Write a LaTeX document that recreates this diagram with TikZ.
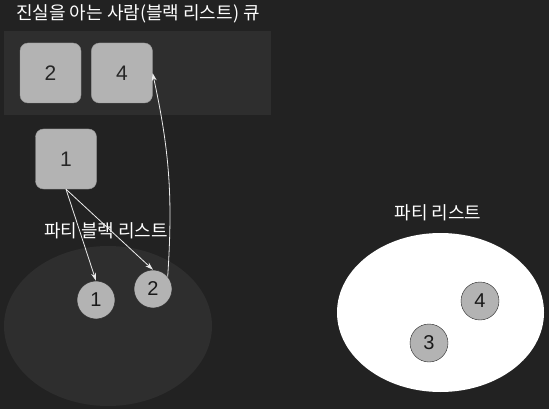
\documentclass[tikz,border=0pt]{standalone}
\usepackage{fontspec}
\setmainfont{Liberation Sans}
\newfontfamily\kr{Noto Sans CJK KR}
\usetikzlibrary{positioning,arrows.meta,shapes.geometric}
\definecolor{bgdark}{HTML}{222222}
\definecolor{panel}{HTML}{2E2E2E}
\definecolor{itemgray}{HTML}{B3B3B3}
\begin{document}
\begin{tikzpicture}[x=1pt,y=-1pt,
    item/.style={draw=itemgray!85!black, fill=itemgray, rounded corners=8pt,
      minimum width=61pt, minimum height=60pt, inner sep=0pt,
      text=black!85, font=\fontsize{21}{24}\selectfont},
    person/.style={circle, draw=black!85, fill=itemgray, minimum size=38pt,
      inner sep=0pt, text=black!90, font=\fontsize{20}{24}\selectfont},
    caption/.style={text=white, font=\kr\fontsize{18}{22}\selectfont},
    group/.style={ellipse, inner sep=0pt},
    link/.style={draw=white!92!black, line width=0.8pt,
      -{Stealth[length=8pt,width=5pt]}}]
  \fill[bgdark] (0,0) rectangle (549,409);
  \useasboundingbox (0,0) rectangle (549,409);

  % queue of people who know the truth
  \node[caption] (qtitle) at (138,14) {진실을 아는 사람(블랙 리스트) 큐};
  \node[fill=panel, minimum width=267pt, minimum height=84pt] (queue) at (137.5,73) {};
  \node[item] (q2) at (50.5,73) {2};
  \node[item, right=10pt of q2] (q4) {4};
  \node[item] (b1) at (66,159) {1};

  % party black list
  \node[caption] (blabel) at (106,231) {파티 블랙 리스트};
  \node[group, fill=panel, minimum width=208pt, minimum height=160pt] (blist) at (108,326) {};
  \node[person] (p1) at (96,300) {1};
  \node[person] (p2) at (153,289) {2};

  % party list
  \node[caption] (plabel) at (438,213) {파티 리스트};
  \node[group, fill=white, minimum width=207pt, minimum height=159pt] (plist) at (440.5,312.5) {};
  \node[person] (p4) at (480,301) {4};
  \node[person] (p3) at (429,343) {3};

  \draw[link] (b1.south) -- (p1.north);
  \draw[link] (b1.south) -- (p2.north);
  \draw[link] (p2.40) to[bend right=8] (q4.east);
\end{tikzpicture}
\end{document}
